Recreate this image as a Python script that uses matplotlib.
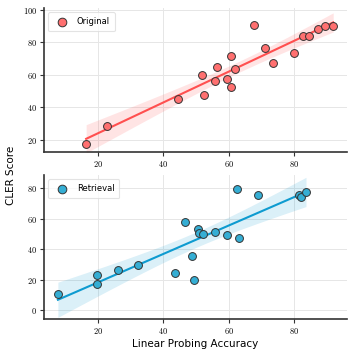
import matplotlib
matplotlib.use("Agg")
import matplotlib.pyplot as plt
from matplotlib.ticker import FuncFormatter
import numpy as np

# Original
orig_x = [16.5, 23.0, 44.5, 51.9, 52.4, 55.9, 56.5, 59.5, 60.7, 60.6,
          62.0, 67.6, 71.1, 73.3, 79.7, 82.7, 84.5, 87.3, 89.2, 91.8]
orig_y = [17.3, 28.2, 44.8, 59.7, 47.2, 55.8, 65.0, 57.2, 71.2, 52.3,
          63.2, 90.6, 76.7, 67.3, 73.2, 84.0, 84.0, 87.9, 89.8, 90.0]

# Retrieval
retr_x = [7.9, 19.9, 19.7, 26.3, 32.3, 43.5, 46.6, 48.8, 49.4, 50.7,
          50.9, 52.2, 55.8, 59.3, 62.5, 63.0, 68.8, 81.5, 82.0, 83.5]
retr_y = [10.3, 23.0, 17.0, 26.2, 29.5, 24.5, 57.9, 35.6, 19.9, 53.1,
          50.9, 50.1, 51.4, 49.2, 79.8, 47.7, 75.8, 75.6, 74.5, 77.4]

plt.rcParams.update({
    "font.family": "DejaVu Sans",
    "mathtext.fontset": "cm",
    "axes.edgecolor": "#333333",
    "axes.linewidth": 1.2,
})


def fit_band(x, y):
    x = np.asarray(x, float)
    y = np.asarray(y, float)
    n = len(x)
    slope, intercept = np.polyfit(x, y, 1)
    grid = np.linspace(x.min(), x.max(), 100)
    pred = intercept + slope * grid
    resid = y - (intercept + slope * x)
    s = np.sqrt(np.sum(resid ** 2) / (n - 2))
    se = s * np.sqrt(1 / n + (grid - x.mean()) ** 2 / np.sum((x - x.mean()) ** 2))
    return grid, pred, 2.1 * se


def panel(ax, x, y, face, line, label):
    grid, pred, half = fit_band(x, y)
    ax.fill_between(grid, pred - half, pred + half, color=line, alpha=0.15, lw=0, zorder=2)
    ax.plot(grid, pred, color=line, lw=1.5, zorder=3)
    ax.scatter(x, y, s=32, facecolor=face, edgecolor="#333333", linewidth=0.7,
               zorder=4, label=label)
    ax.grid(True, color="#e6e6e6", lw=0.7, zorder=0)
    ax.set_axisbelow(True)
    ax.spines["top"].set_visible(False)
    ax.spines["right"].set_visible(False)
    ax.tick_params(labelsize=6, length=3, width=0.8, color="#333333", pad=2)
    ax.xaxis.set_major_formatter(FuncFormatter(lambda v, p: f"${v:g}$"))
    ax.yaxis.set_major_formatter(FuncFormatter(lambda v, p: f"${v:g}$"))
    ax.set_xlim(3.7, 96)
    ax.set_xticks([20, 40, 60, 80])
    leg = ax.legend(loc="upper left", fontsize=6, frameon=True, borderpad=0.6,
                    handletextpad=0.8, markerscale=1.1)
    leg.get_frame().set_edgecolor("#dddddd")
    leg.get_frame().set_linewidth(0.8)


fig = plt.figure(figsize=(3.53, 3.51), dpi=100)
ax1 = fig.add_axes([0.125, 0.567, 0.858, 0.41])
ax2 = fig.add_axes([0.125, 0.091, 0.858, 0.41])

panel(ax1, orig_x, orig_y, "#FF7070", "#FF4F4F", "Original")
ax1.set_ylim(12.4, 101)
ax1.set_yticks([20, 40, 60, 80, 100])

panel(ax2, retr_x, retr_y, "#35AED4", "#0E9BD0", "Retrieval")
ax2.set_ylim(-5.9, 88.7)
ax2.set_yticks([0, 20, 40, 60, 80])
ax2.set_xlabel("Linear Probing Accuracy", fontsize=7.5, labelpad=2)

fig.text(0.03, 0.5, "CLER Score", rotation=90, ha="center", va="center", fontsize=7.5)

fig.savefig("out.png", dpi=100)
